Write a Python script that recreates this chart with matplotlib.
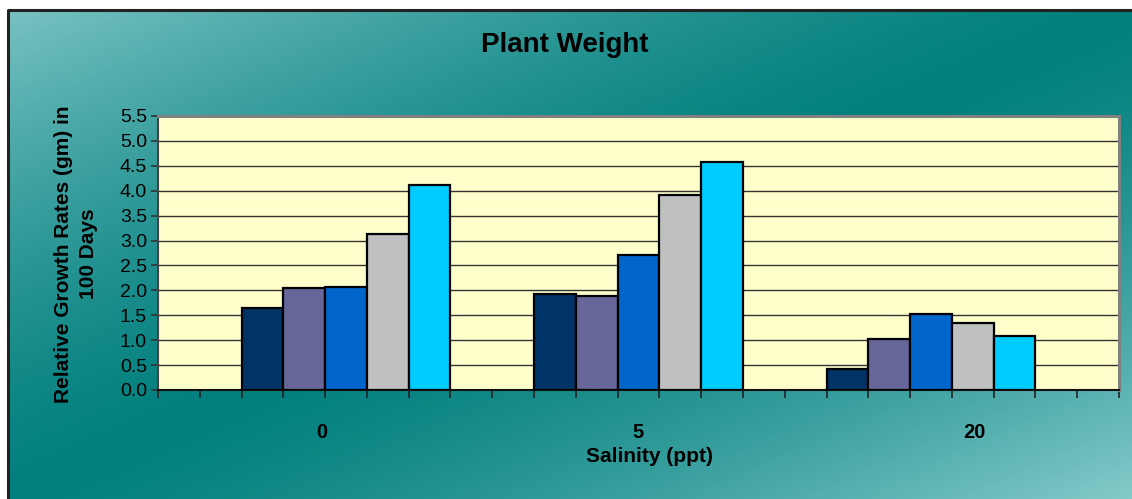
import numpy as np
import matplotlib.pyplot as plt

plt.rcParams['font.family'] = ['Liberation Sans', 'DejaVu Sans']

categories = ["0", "5", "20"]
series_colors = ["#003366", "#666699", "#0066CC", "#C0C0C0", "#00CCFF"]
# one list per bar series (5 bars in each salinity group)
s1 = [1.65, 1.93, 0.42]
s2 = [2.05, 1.89, 1.02]
s3 = [2.07, 2.71, 1.53]
s4 = [3.14, 3.91, 1.34]
s5 = [4.11, 4.57, 1.09]
series = [s1, s2, s3, s4, s5]
yticks = np.arange(0, 5.51, 0.5)

W, H = 1132, 499
fig = plt.figure(figsize=(W / 100, H / 100), dpi=100)
fig.patch.set_facecolor("white")

# background panel with teal diagonal gradient
bg = fig.add_axes([8 / W, 0, 1 - 8 / W, (H - 10) / H])
bg.set_axis_off()
u = np.linspace(0, 1, 400)[None, :]
v = np.linspace(0, 1, 200)[:, None]
t = np.abs((u + v) - 1.0)
light_tl = np.array([120, 194, 194]) / 255
light_br = np.array([132, 202, 202]) / 255
dark = np.array([2, 128, 126]) / 255
light = np.where(((u + v) < 1)[..., None], light_tl, light_br)
img = dark + (light - dark) * (t[..., None] ** 1.4)
bg.imshow(img, aspect="auto", extent=[0, 1, 0, 1], origin="upper")
bg.set_xlim(0, 1)
bg.set_ylim(0, 1)
bg.plot([0, 0, 1], [0, 1, 1], color="#222222", lw=2.2, clip_on=False)

ax = fig.add_axes([158 / W, 1 - 390 / H, 961 / W, 274 / H])
ax.set_facecolor("#FFFFCC")

nslots = 23
for j, vals in enumerate(series):
    xs = [2 + 7 * i + j + 0.5 for i in range(len(categories))]
    ax.bar(xs, vals, width=1.0, color=series_colors[j], edgecolor="black",
           linewidth=1.6, zorder=3)

ax.set_xlim(0, nslots)
ax.set_ylim(0, 5.5)
ax.set_yticks(yticks)
ax.set_yticklabels([f"{y:.1f}" for y in yticks], fontsize=14)
for y in yticks[1:-1]:
    ax.axhline(y, color="#333333", lw=1.0, zorder=1)

ax.set_xticks(np.arange(0, nslots + 1), minor=True)
ax.set_xticks([3.93, 11.49, 19.53])
ax.set_xticklabels(categories, fontsize=14.5, fontweight="bold")
ax.tick_params(axis="x", which="major", length=0, pad=24)
ax.tick_params(axis="x", which="minor", length=6, width=1.2, color="#222222")
ax.tick_params(axis="y", length=5, width=1.2, color="#333333", pad=3)

for side in ["top", "right"]:
    ax.spines[side].set_color("#808080")
    ax.spines[side].set_linewidth(2.2)
ax.spines["left"].set_color("#444444")
ax.spines["left"].set_linewidth(1.5)
ax.spines["bottom"].set_color("#111111")
ax.spines["bottom"].set_linewidth(1.5)

fig.text(565 / W, 1 - 45 / H, "Plant Weight", ha="center", va="center",
         fontsize=20, fontweight="bold")
fig.text(650 / W, 1 - 456 / H, "Salinity (ppt)", ha="center", va="center",
         fontsize=15, fontweight="bold")
fig.text(76 / W, 1 - 254 / H, "Relative Growth Rates (gm) in\n100 Days",
         ha="center", va="center", rotation=90, fontsize=15,
         fontweight="bold", linespacing=1.45)

fig.savefig("out.png", dpi=100)
